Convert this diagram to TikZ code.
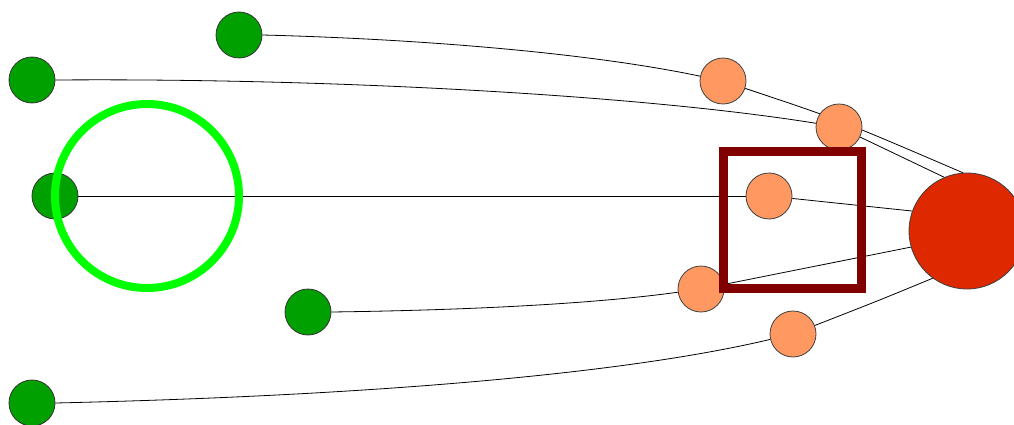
\documentclass[tikz,border=0pt]{standalone}
\pgfdeclarelayer{background}
\pgfdeclarelayer{foreground}
\pgfsetlayers{background,main,foreground}
\begin{document}
\begin{tikzpicture}[x=1pt,y=-1pt,
  gnode/.style={circle,draw=black!80,line width=0.8pt,fill={rgb,255:red,0;green,160;blue,0},minimum size=46pt,inner sep=0pt},
  onode/.style={circle,draw=black!75,line width=0.8pt,fill={rgb,255:red,255;green,153;blue,97},minimum size=46pt,inner sep=0pt},
  rnode/.style={circle,draw=black!75,line width=0.8pt,fill={rgb,255:red,221;green,40;blue,0},minimum size=116pt,inner sep=0pt},
  edge/.style={draw=black,line width=0.8pt}]
\useasboundingbox (0,0) rectangle (1014,425);
\node[gnode] (g1) at (239,35) {};
\node[gnode] (g2) at (32,80) {};
\node[gnode] (g3) at (55,196) {};
\node[gnode] (g4) at (308,312) {};
\node[gnode] (g5) at (32,403) {};
\node[onode] (o1) at (723,81) {};
\node[onode] (o2) at (839,127) {};
\node[onode] (o3) at (769,196) {};
\node[onode] (o4) at (701,289) {};
\node[onode] (o5) at (793,334) {};
\node[rnode] (r) at (967,231) {};
\begin{pgfonlayer}{background}
\fill[white] (0,0) rectangle (1014,425);
\draw[edge] (g1.east) .. controls (420,39) and (590,53) .. (o1);
\draw[edge] (g2.east) .. controls (330,78) and (640,95) .. (o2);
\draw[edge] (g3.east) -- (o3);
\draw[edge] (g4.east) .. controls (480,310) and (600,303) .. (o4);
\draw[edge] (g5.east) .. controls (360,396) and (620,375) .. (o5);
\draw[edge] (o1) .. controls (840,120) .. (r.94);
\draw[edge] (o2) -- (r.113);
\draw[edge] (o3) -- (r.160);
\draw[edge] (o4) -- (r.196);
\draw[edge] (o5) .. controls (880,300) .. (r.234);
\end{pgfonlayer}
\begin{pgfonlayer}{foreground}
\node[circle,draw={rgb,255:red,0;green,255;blue,0},line width=8pt,minimum size=184pt,inner sep=0pt] (ring) at (147,196) {};
\node[draw={rgb,255:red,128;green,0;blue,0},line width=8.5pt,minimum width=138pt,minimum height=137pt,inner sep=0pt] (box) at (792.5,220) {};
\end{pgfonlayer}
\end{tikzpicture}
\end{document}
